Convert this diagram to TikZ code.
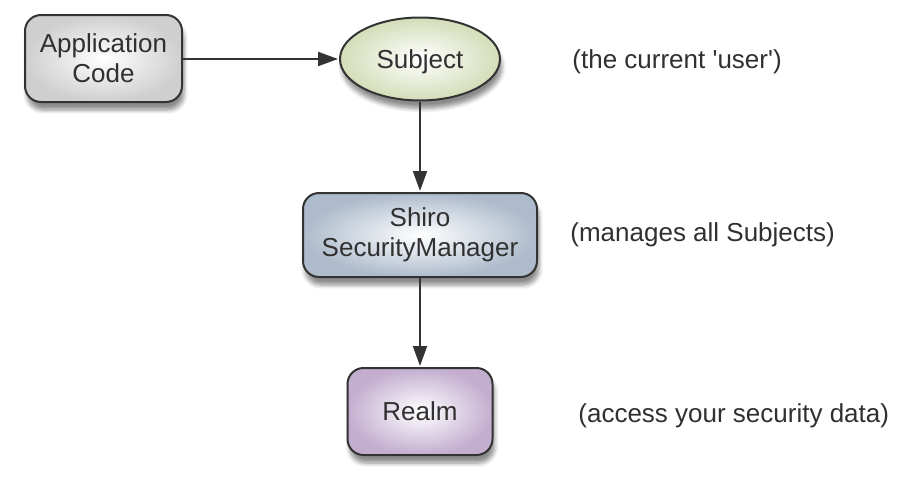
\documentclass[tikz,border=0pt]{standalone}
\usepackage{fontspec}
\setmainfont{Liberation Sans}[Ligatures=TeXOff]
\usetikzlibrary{arrows.meta,shapes.geometric,shadows.blur}
\definecolor{edgecol}{HTML}{333333}
\definecolor{txtcol}{HTML}{303030}
\definecolor{appcol}{HTML}{CFCFCF}
\definecolor{subjcol}{HTML}{D3DDB8}
\definecolor{smcol}{HTML}{AEBBCC}
\definecolor{realmcol}{HTML}{C3AED0}
\tikzset{
  base/.style={draw=edgecol, line width=1pt, inner sep=0pt, text=txtcol,
    align=center, font=\fontsize{13}{15}\selectfont,
    blur shadow={shadow xshift=1pt, shadow yshift=-4pt, shadow blur steps=6, shadow opacity=45},
    shading=radial, inner color=white},
  rbox/.style={base, rectangle, rounded corners=8pt},
  oval/.style={base, ellipse},
  note/.style={inner sep=0pt, anchor=west, text=txtcol, font=\fontsize{13}{15}\selectfont},
  conn/.style={draw=edgecol, line width=1pt, -{Triangle[length=10pt,width=7pt]}, shorten >=0.5pt}
}
\begin{document}
\begin{tikzpicture}[x=0.5pt,y=-0.5pt]
\useasboundingbox (0,0) rectangle (908,487);
\node[rbox, outer color=appcol, minimum width=78.5pt, minimum height=43.5pt] (app) at (103.5,58.5) {Application\\Code};
\node[oval, outer color=subjcol, minimum width=80pt, minimum height=41.5pt, text height=9pt, text depth=0pt] (subj) at (420,59) {Subject};
\node[rbox, outer color=smcol, minimum width=117pt, minimum height=42pt] (sm) at (420,235) {Shiro\\SecurityManager};
\node[rbox, outer color=realmcol, minimum width=72.5pt, minimum height=43.5pt] (realm) at (420,411.5) {Realm};
\node[note] (n1) at (572,61.5) {(the current 'user')};
\node[note] (n2) at (570,235) {(manages all Subjects)};
\node[note] (n3) at (578,416) {(access your security data)};
\draw[conn] (app.east |- subj.west) -- (subj.west);
\draw[conn] (subj.south) -- (sm.north);
\draw[conn] (sm.south) -- (realm.north);
\end{tikzpicture}
\end{document}
